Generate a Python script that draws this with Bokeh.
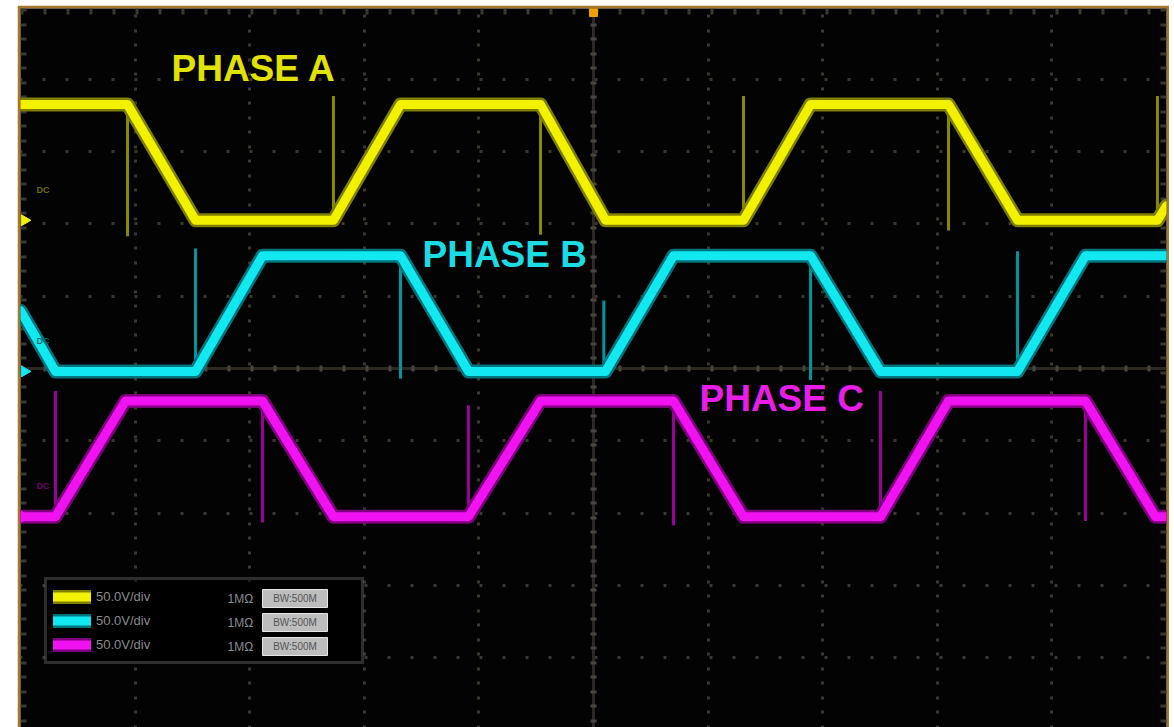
from bokeh.plotting import figure
from bokeh.models import Range1d, Span, Legend, LegendItem, Grid, FixedTicker
from bokeh.embed import file_html
from bokeh.resources import INLINE
from bokeh.core.properties import value

# ---------------- scope settings / data ----------------
VOLTS_PER_DIV = 50.0
channel_names = ["PHASE A", "PHASE B", "PHASE C"]
channel_offset_div = [2.05, -0.04, -2.05]          # ground position of each channel (divisions)
channel_scale = ["50.0V/div", "50.0V/div", "50.0V/div"]
channel_termination = ["1MΩ", "1MΩ", "1MΩ"]
channel_bandwidth = ["BW:500M", "BW:500M", "BW:500M"]

# time in divisions (10 divisions across the screen), level in volts
phase_a_t = [0.000, 0.934, 1.527, 2.731, 3.316, 4.538, 5.105, 6.309, 6.894, 8.098, 8.700, 9.921, 10.000]
phase_a_v = [80, 80, 0, 0, 80, 80, 0, 0, 80, 80, 0, 0, 10]
phase_b_t = [0.000, 0.305, 1.527, 2.112, 3.316, 3.909, 5.105, 5.698, 6.894, 7.504, 8.700, 9.293, 10.000]
phase_b_v = [42, 0, 0, 80, 80, 0, 0, 80, 80, 0, 0, 80, 80]
phase_c_t = [0.000, 0.305, 0.916, 2.112, 2.731, 3.909, 4.538, 5.698, 6.309, 7.504, 8.098, 9.293, 9.904, 10.000]
phase_c_v = [0, 0, 80, 80, 0, 0, 80, 80, 0, 0, 80, 80, 0, 0]

# switching spikes: time, start level, end level (volts)
spike_a_t = [0.934, 2.731, 4.538, 6.309, 8.098, 9.921]
spike_a_v0 = [80, 0, 80, 0, 80, 0]
spike_a_v1 = [-11, 86, -10, 86, -7, 86]
spike_b_t = [1.527, 3.316, 5.090, 6.894, 8.700]
spike_b_v0 = [0, 80, 0, 80, 0]
spike_b_v1 = [85, -5, 49, -6, 83]
spike_c_t = [0.305, 2.112, 3.909, 5.698, 7.504, 9.293]
spike_c_v0 = [0, 80, 0, 80, 0, 80]
spike_c_v1 = [87, -4, 77, -6, 87, -3]

trigger_position_div = 5.0

# ---------------- styling ----------------
core_colors = ["#F2F200", "#12E8F0", "#F012F0"]
glow_colors = ["#7E7E00", "#00747C", "#7E007E"]
spike_colors = ["#8A8A00", "#0096A0", "#9A009A"]
label_colors = ["#E2E200", "#1ADCE4", "#E81EE8"]
badge_colors = ["#6E6E00", "#006E74", "#6E006E"]

PX_PER_DIV_X = 114.6
PX_PER_DIV_Y = 72.3
Y_TOP = (368 - 8) / PX_PER_DIV_Y
Y_BOT = (368 - 727) / PX_PER_DIV_Y


def dx(px):  # page pixel -> horizontal division
    return (px - 20) / PX_PER_DIV_X


def dy(py):  # page pixel -> vertical division
    return (368 - py) / PX_PER_DIV_Y


p = figure(width=1152, height=722,
           x_range=Range1d(0, 10), y_range=Range1d(Y_BOT, Y_TOP),
           output_backend="svg", toolbar_location=None,
           x_axis_location=None, y_axis_location=None,
           min_border_left=3, min_border_right=3, min_border_top=3, min_border_bottom=0,
           background_fill_color="#030303", border_fill_color="#A8772E",
           outline_line_color=None)
p.margin = (5, 0, 0, 17)
p.grid.visible = False

# per-channel volt ranges (scope offset + V/div)
for name, off in zip(channel_names, channel_offset_div):
    p.extra_y_ranges[name] = Range1d((Y_BOT - off) * VOLTS_PER_DIV, (Y_TOP - off) * VOLTS_PER_DIV)

# graticule
p.add_layout(Grid(dimension=0, ticker=FixedTicker(ticks=[1, 2, 3, 4, 6, 7, 8, 9]),
                  grid_line_color="#3a382f", grid_line_width=3, grid_line_dash="3 12 3 11",
                  grid_line_dash_offset=1))
p.add_layout(Grid(dimension=1, ticker=FixedTicker(ticks=[-4, -3, -2, -1, 1, 2, 3, 4]),
                  grid_line_color="#3a382f", grid_line_width=3, grid_line_dash="3 20",
                  grid_line_dash_offset=1))
for loc, dim, dash in [(5, "height", "3 12 3 11"), (0, "width", "3 20")]:
    p.add_layout(Span(location=loc, dimension=dim, line_color="#2b2922", line_width=3, level="underlay"))
    p.add_layout(Span(location=loc, dimension=dim, line_color="#4a463a", line_width=6,
                      line_dash=dash, level="underlay"))
# edge ticks
p.add_layout(Span(location=dx(23), dimension="height", line_color="#3a382f", line_width=6,
                  line_dash="3 12 3 11", level="underlay"))
p.add_layout(Span(location=dx(1163), dimension="height", line_color="#3a382f", line_width=6,
                  line_dash="3 12 3 11", level="underlay"))
p.add_layout(Span(location=dy(11), dimension="width", line_color="#3a382f", line_width=6,
                  line_dash="3 20", level="underlay"))

traces = [(phase_a_t, phase_a_v), (phase_b_t, phase_b_v), (phase_c_t, phase_c_v)]
spikes = [(spike_a_t, spike_a_v0, spike_a_v1), (spike_b_t, spike_b_v0, spike_b_v1),
          (spike_c_t, spike_c_v0, spike_c_v1)]

legend_items = []
for i, name in enumerate(channel_names):
    st, s0, s1 = spikes[i]
    p.segment(x0=st, y0=s0, x1=st, y1=s1, y_range_name=name,
              line_color=spike_colors[i], line_width=3)
for i, name in enumerate(channel_names):
    t, v = traces[i]
    g = p.line(t, v, y_range_name=name, line_color=glow_colors[i], line_width=14,
               line_join="round", line_cap="round")
    c = p.line(t, v, y_range_name=name, line_color=core_colors[i], line_width=9,
               line_join="round", line_cap="round")
    legend_items.append(LegendItem(label=channel_scale[i], renderers=[g, c]))

# phase labels
p.text(x=[dx(171), dx(422), dx(699)], y=[dy(68), dy(254), dy(398)], text=channel_names,
       text_color=label_colors, text_font=value("Liberation Sans"), text_font_style="bold",
       text_font_size="37px", text_baseline="alphabetic", text_align="left")

# ground markers and channel badges at the left edge
p.scatter(x=[dx(24)] * 3, y=channel_offset_div, marker="triangle", angle=-1.5708,
          size=11, color=core_colors)
p.text(x=[dx(36)] * 3, y=[off + 0.42 for off in channel_offset_div], text=["DC", "DC", "DC"],
       text_color=badge_colors, text_font=value("Liberation Sans"), text_font_style="bold",
       text_font_size="9px", text_baseline="middle")

# trigger position marker
p.scatter(x=[trigger_position_div], y=[dy(12)], marker="square", size=8, color="#F0A000")

# legend panel (black backing and info boxes)
rows_py = [598, 622, 646]
p.quad(left=[dx(45)], right=[dx(360)], top=[dy(581)], bottom=[dy(661)],
       fill_color="#000000", line_color=None)
p.text(x=[dx(227)] * 3, y=[dy(r) for r in rows_py], text=channel_termination,
       text_color="#8c8c8c", text_font=value("Liberation Sans"), text_font_size="12px",
       text_baseline="middle")
p.quad(left=[dx(262)] * 3, right=[dx(327)] * 3, top=[dy(r - 9) for r in rows_py],
       bottom=[dy(r + 9) for r in rows_py], fill_color="#bdbdbd", line_color="#e6e6e6",
       line_width=1)
p.text(x=[dx(294.5)] * 3, y=[dy(r) for r in rows_py], text=channel_bandwidth,
       text_color="#555555", text_font=value("Liberation Sans"), text_font_size="10px",
       text_baseline="middle", text_align="center")

legend = Legend(items=legend_items, location=(24, 63), orientation="vertical",
                padding=6, spacing=3, margin=0, glyph_width=38, glyph_height=17,
                label_height=21, label_width=259, label_standoff=5,
                label_text_font="Liberation Sans", label_text_font_size="13px",
                label_text_color="#8c8c8c", background_fill_alpha=0,
                border_line_color="#5a5a5a", border_line_width=3)
p.add_layout(legend)

open("out.html", "w").write(file_html(p, INLINE))
